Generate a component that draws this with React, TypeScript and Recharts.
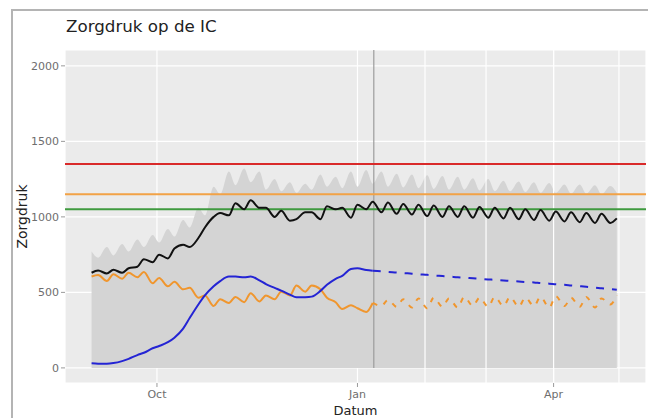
import React from 'react';
import { ComposedChart, Area, Line, XAxis, YAxis, CartesianGrid, ReferenceLine } from 'recharts';

// day 0 = 1 sept
const days = [
  0, 3, 7, 10, 14, 17, 21, 24, 28, 31,
  35, 38, 42, 45, 49, 52, 56, 59, 63, 66,
  70, 73, 77, 80, 84, 87, 91, 94, 98, 101,
  105, 108, 112, 115, 119, 122, 126, 129, 133, 136,
  140, 143, 147, 150, 154, 157, 161, 164, 168, 171,
  175, 178, 182, 185, 189, 192, 196, 199, 203, 206,
  210, 213, 217, 220, 224, 227, 231, 234, 238, 241,
];

// upper edge of the grey band
const bandUpper = [
  770, 730, 800, 745, 820, 770, 850, 800, 880, 830,
  920, 870, 980, 930, 1060, 1010, 1200, 1150, 1300, 1210,
  1320, 1230, 1300, 1180, 1250, 1170, 1230, 1160, 1220, 1180,
  1280, 1200, 1265, 1190, 1300, 1200, 1310, 1220, 1300, 1200,
  1285, 1195, 1280, 1190, 1275, 1185, 1270, 1180, 1265, 1180,
  1255, 1175, 1250, 1170, 1240, 1170, 1235, 1165, 1230, 1160,
  1225, 1160, 1215, 1155, 1215, 1155, 1210, 1150, 1205, 1160,
];

const totalCare = [
  630, 645, 625, 650, 630, 660, 670, 720, 700, 750,
  725, 790, 815, 800, 860, 930, 1000, 1025, 1010, 1090,
  1050, 1110, 1060, 1060, 1000, 1040, 975, 985, 1030, 1030,
  985, 1070, 1050, 1060, 995, 1080, 1050, 1100, 1030, 1095,
  1020, 1085, 1015, 1080, 1005, 1075, 1000, 1070, 1000, 1070,
  995, 1065, 995, 1060, 990, 1060, 985, 1050, 980, 1045,
  975, 1035, 970, 1030, 965, 1025, 960, 1020, 960, 990,
];

// first 38 points observed, then forecast (shares day 129)
const otherObserved = [
  605, 615, 575, 620, 590, 630, 600, 635, 560, 595,
  540, 570, 520, 530, 465, 480, 410, 455, 430, 470,
  435, 495, 440, 480, 455, 505, 480, 545, 505, 545,
  520, 465, 435, 390, 415, 395, 370, 430,
];
const otherForecast = [
  430, 410, 450, 405, 455, 400, 460, 395, 465, 405,
  460, 400, 470, 410, 465, 405, 470, 410, 470, 405,
  465, 410, 470, 400, 475, 410, 465, 405, 470, 400,
  460, 420, 480,
];

const covidObserved = [
  30, 28, 28, 32, 45, 60, 85, 100, 130, 145,
  170, 200, 260, 330, 420, 480, 540, 575, 605, 605,
  600, 605, 580, 555, 530, 512, 485, 467, 468, 472,
  510, 550, 590, 610, 655, 660, 648, 643,
];
const covidForecast = [
  643, 640, 636, 632, 628, 624, 620, 616, 612, 608,
  605, 600, 597, 593, 590, 586, 583, 579, 576, 572,
  569, 566, 562, 558, 554, 550, 546, 541, 537, 532,
  527, 522, 517,
];

const tickDays = [30, 122, 212];
const tickLabels = ['Oct', 'Jan', 'Apr'];
const monthLines = [153, 181, 212, 242];
const yTicks = [0, 500, 1000, 1500, 2000];
const todayDay = 129.5;
const thresholds = [
  { value: 1350, color: '#d92a2a' },
  { value: 1150, color: '#f2a246' },
  { value: 1050, color: '#3f9a3f' },
];

const forecastStart = days.length - covidForecast.length;

const data = days.map((day, i) => ({
  day,
  band: bandUpper[i],
  total: totalCare[i],
  otherObs: i < otherObserved.length ? otherObserved[i] : null,
  otherPred: i >= forecastStart ? otherForecast[i - forecastStart] : null,
  covidObs: i < covidObserved.length ? covidObserved[i] : null,
  covidPred: i >= forecastStart ? covidForecast[i - forecastStart] : null,
}));

const tickStyle = { fontSize: 11, fill: '#6e6e6e', fontFamily: 'DejaVu Sans' };

export default function App() {
  return (
    <div style={{ position: 'absolute', left: 0, top: 0, width: 648, height: 418, background: '#fff', overflow: 'hidden' }}>
      <div
        style={{
          position: 'absolute', left: 11, top: 9, width: 660, height: 440,
          borderLeft: '2px solid #b4b4b4', borderTop: '2px solid #b4b4b4',
        }}
      />
      <div
        style={{
          position: 'absolute', left: 66, top: 18, fontFamily: 'DejaVu Sans',
          fontSize: 16.7, lineHeight: 1, color: '#222',
        }}
      >
        Zorgdruk op de IC
      </div>
      <ComposedChart
        width={648}
        height={418}
        data={data}
        margin={{ top: 50, right: 2, bottom: 0, left: 0 }}
        style={{ position: 'absolute', left: 0, top: 0, fontFamily: 'DejaVu Sans' }}
      >
        <CartesianGrid fill="#ebebeb" stroke="#ffffff" strokeWidth={1.2} />
        <XAxis
          dataKey="day"
          type="number"
          domain={[-12.2, 254.4]}
          ticks={tickDays}
          tickFormatter={(d) => tickLabels[tickDays.indexOf(d)]}
          height={35}
          axisLine={false}
          tickSize={4}
          tickMargin={3}
          tickLine={{ stroke: '#9a9a9a' }}
          tick={tickStyle}
          allowDataOverflow
          label={{ value: 'Datum', position: 'insideBottom', offset: 3, fontSize: 13, fill: '#222' }}
        />
        <YAxis
          type="number"
          domain={[-100, 2105]}
          ticks={yTicks}
          width={65}
          axisLine={false}
          tickSize={4}
          tickMargin={2}
          tickLine={{ stroke: '#9a9a9a' }}
          tick={tickStyle}
          allowDataOverflow
          label={{
            value: 'Zorgdruk', angle: -90, position: 'insideLeft', offset: 22,
            fontSize: 14, fill: '#222', style: { textAnchor: 'middle' },
          }}
        />
        <Area
          dataKey="band"
          type="monotone"
          baseValue={0}
          fill="#d4d4d4"
          fillOpacity={1}
          stroke="none"
          isAnimationActive={false}
          zIndex={100}
        />
        {monthLines.map((d) => (
          <ReferenceLine key={d} x={d} stroke="#ffffff" strokeWidth={1.2} zIndex={150} />
        ))}
        <ReferenceLine
          segment={[{ x: todayDay, y: 0 }, { x: todayDay, y: 2105 }]}
          stroke="#9c9c9c"
          strokeWidth={1.2}
          zIndex={160}
        />
        {thresholds.map((t) => (
          <ReferenceLine key={t.value} y={t.value} stroke={t.color} strokeWidth={2} zIndex={170} />
        ))}
        <Line dataKey="otherObs" type="monotone" stroke="#f0962e" strokeWidth={2} dot={false} isAnimationActive={false} />
        <Line dataKey="otherPred" type="monotone" stroke="#f0962e" strokeWidth={2} strokeDasharray="5 7" dot={false} isAnimationActive={false} />
        <Line dataKey="covidObs" type="monotone" stroke="#2424d4" strokeWidth={2} dot={false} isAnimationActive={false} />
        <Line dataKey="covidPred" type="monotone" stroke="#2424d4" strokeWidth={2} strokeDasharray="8 8" dot={false} isAnimationActive={false} />
        <Line dataKey="total" type="monotone" stroke="#111111" strokeWidth={2} dot={false} isAnimationActive={false} />
      </ComposedChart>
    </div>
  );
}
